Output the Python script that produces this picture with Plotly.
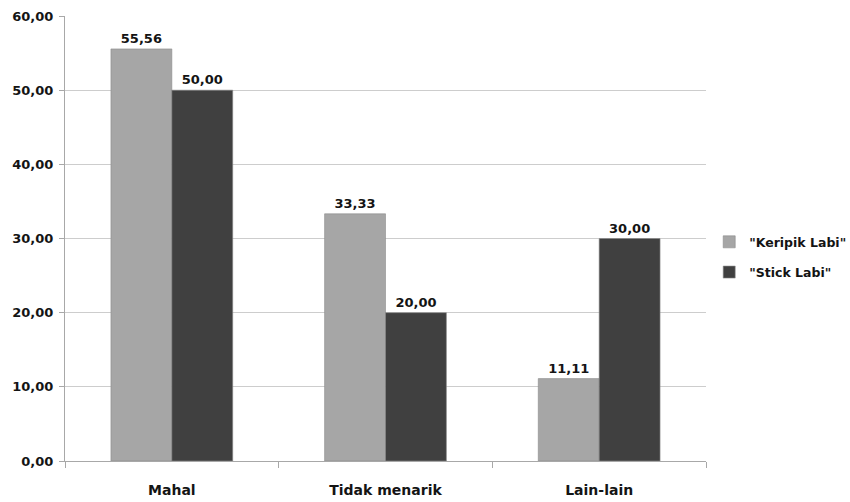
import plotly.graph_objects as go

categories = ["Mahal", "Tidak menarik", "Lain-lain"]
keripik = [55.56, 33.33, 11.11]
stick = [50.00, 20.00, 30.00]
series_names = ['"Keripik Labi"', '"Stick Labi"']
y_ticks = [0, 10, 20, 30, 40, 50, 60]

FONT = "DejaVu Sans"
INK = "#141414"

fig = go.Figure()
for i, (name, vals, color) in enumerate([
    (series_names[0], keripik, "#a6a6a6"),
    (series_names[1], stick, "#404040"),
]):
    fig.add_trace(go.Bar(
        x=categories, y=vals, name=name, legendgroup=f"g{i}",
        marker=dict(color=color, line=dict(color="#8c8c8c", width=0.6)),
        texttemplate="%{y:.2f}", textposition="outside",
        textfont=dict(family=FONT, size=13, color=INK, weight="bold"),
        cliponaxis=False,
    ))

fig.update_layout(
    width=850, height=502,
    margin=dict(l=65, r=144, t=16, b=41, autoexpand=False),
    paper_bgcolor="white", plot_bgcolor="white",
    barmode="group", bargap=0.43, bargroupgap=0,
    separators=",.",
    font=dict(family=FONT, size=12, color=INK),
    showlegend=True,
    legend=dict(
        x=0.005, y=0.458, xanchor="left", yanchor="middle",
        font=dict(family=FONT, size=12.5, color=INK, weight="bold"),
        traceorder="grouped", tracegroupgap=11,
        bgcolor="rgba(0,0,0,0)",
        xref="paper",
    ),
)
# legend sits just right of the plot area
fig.update_layout(legend_x=1.005)

fig.update_xaxes(
    type="category", tickson="boundaries",
    ticks="outside", ticklen=6, tickcolor="#a8a8a8",
    showline=True, linecolor="#a8a8a8", linewidth=1,
    tickfont=dict(family=FONT, size=14, color=INK, weight="bold"),
    ticklabelstandoff=16,
    showgrid=False,
)
fig.update_yaxes(
    range=[0, 60], tickvals=y_ticks, tickformat=".2f",
    ticks="outside", ticklen=5, tickcolor="#a8a8a8",
    showline=True, linecolor="#a8a8a8", linewidth=1,
    showgrid=True, gridcolor="#cdcdcd", gridwidth=1,
    zeroline=False,
    tickfont=dict(family=FONT, size=13, color=INK, weight="bold"),
    ticklabelstandoff=3,
)

fig.write_html("out.html")
